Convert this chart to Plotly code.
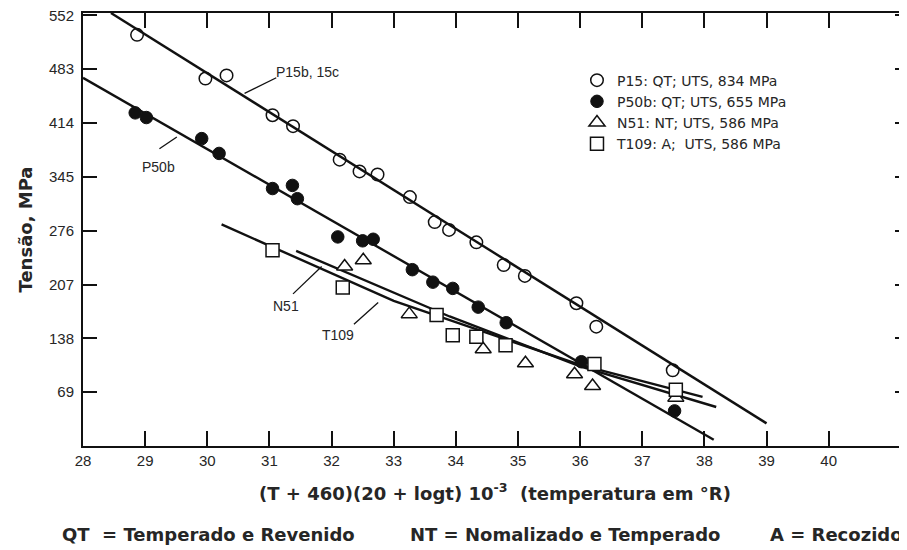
import plotly.graph_objects as go

# ---------------- data ----------------
p15_x = [28.87, 29.97, 30.31, 31.05, 31.38, 32.13, 32.45, 32.74, 33.26, 33.66, 33.89,
         34.33, 34.77, 35.11, 35.94, 36.26, 37.49]
p15_y = [527, 471, 475, 424, 410, 367, 352, 348, 319, 287, 277, 261, 232, 218, 183, 153, 97]

p50_x = [28.84, 29.02, 29.91, 30.19, 31.05, 31.37, 31.45, 32.10, 32.50, 32.67, 33.30,
         33.63, 33.95, 34.36, 34.81, 36.02, 37.52]
p50_y = [427, 421, 394, 375, 330, 334, 317, 268, 263, 265, 226, 210, 202, 178, 158, 108, 45]

n51_x = [32.21, 32.51, 33.25, 34.44, 35.12, 35.91, 36.20, 37.54]
n51_y = [230, 238, 169, 124, 106, 92, 77, 62]

t109_x = [31.05, 32.18, 33.69, 33.95, 34.33, 34.80, 36.23, 37.54]
t109_y = [251, 203, 168, 142, 140, 129, 105, 72]

# fitted master curves
p15_fit_x = [28.45, 39.0]
p15_fit_y = [555, 29]
p50_fit_x = [28.0, 38.15]
p50_fit_y = [472, 8]
n51_fit_x = [31.43, 33.9, 36.0, 38.19]
n51_fit_y = [250, 166, 102, 50]
t109_fit_x = [30.23, 33.0, 36.0, 37.97]
t109_fit_y = [284, 186, 104, 63]

legend_names = ["P15: QT; UTS, 834 MPa", "P50b: QT; UTS, 655 MPa",
                "N51: NT; UTS, 586 MPa", "T109: A;  UTS, 586 MPa"]
x_ticks = list(range(28, 41))
y_ticks = [69, 138, 207, 276, 345, 414, 483, 552]

# ---------------- styling ----------------
INK = "#111111"
TXT = "#262626"
SANS = "Liberation Sans, Arial, sans-serif"
WIDE = "DejaVu Sans, Verdana, sans-serif"

fig = go.Figure()

line_style = dict(color=INK, width=2.4)
fig.add_trace(go.Scatter(x=p15_fit_x, y=p15_fit_y, mode="lines", line=line_style,
                         showlegend=False, hoverinfo="skip", yaxis="y2"))
for fx, fy in [(p50_fit_x, p50_fit_y), (n51_fit_x, n51_fit_y), (t109_fit_x, t109_fit_y)]:
    fig.add_trace(go.Scatter(x=fx, y=fy, mode="lines", line=line_style,
                             showlegend=False, hoverinfo="skip"))

fig.add_trace(go.Scatter(x=p15_x, y=p15_y, mode="markers", name=legend_names[0],
                         marker=dict(symbol="circle", size=12.5, color="white",
                                     line=dict(color=INK, width=1.5))))
fig.add_trace(go.Scatter(x=p50_x, y=p50_y, mode="markers", name=legend_names[1],
                         marker=dict(symbol="circle", size=12.5, color=INK,
                                     line=dict(color=INK, width=1))))
fig.add_trace(go.Scatter(x=n51_x, y=n51_y, mode="markers", name=legend_names[2],
                         marker=dict(symbol="triangle-up", size=14, color="white",
                                     line=dict(color=INK, width=1.5))))
fig.add_trace(go.Scatter(x=t109_x, y=t109_y, mode="markers", name=legend_names[3],
                         marker=dict(symbol="square", size=13, color="white",
                                     line=dict(color=INK, width=1.5))))

# curve labels with leader lines
labels = [
    ("P15b, 15c", 31.62, 479, (30.60, 452), (31.11, 472)),
    ("P50b", 29.21, 358, (29.23, 381), (29.51, 396)),
    ("N51", 31.26, 179, (31.38, 195), (31.84, 230)),
    ("T109", 32.10, 142, (32.36, 156), (32.75, 184)),
]
for text, lx, ly, p0, p1 in labels:
    fig.add_annotation(x=lx, y=ly, text=text, showarrow=False,
                       font=dict(family=SANS, size=14, color=TXT))
    fig.add_shape(type="line", x0=p0[0], y0=p0[1], x1=p1[0], y1=p1[1],
                  line=dict(color=INK, width=1.3))

# footer
footer = [("QT  = Temperado e Revenido", -0.0279),
          ("NT = Nomalizado e Temperado", 0.3944),
          ("A = Recozido", 0.8313)]
for text, fx in footer:
    fig.add_annotation(xref="paper", yref="paper", x=fx, y=-0.2055, xanchor="left",
                       yanchor="middle", text=text, showarrow=False,
                       font=dict(family=WIDE, size=18, color=TXT, weight="bold"))

axis_common = dict(showgrid=False, zeroline=False, ticks="inside",
                   tickcolor=INK, tickwidth=1.5, automargin=False)

# the page adds an 8px body margin, so the figure is sized to fit inside the window
fig.update_layout(
    width=899, height=542,
    margin=dict(l=75, r=0, t=5, b=104, autoexpand=False),
    paper_bgcolor="white", plot_bgcolor="white",
    xaxis=dict(range=[28, 41.26], tickvals=x_ticks, ticklen=15,
               showline=True, linewidth=2, linecolor=INK, mirror="ticks",
               tickfont=dict(family=SANS, size=15, color=TXT),
               title=dict(text="(T + 460)(20 + logt) 10<sup>-3</sup>  (temperatura em °R)",
                          font=dict(family=WIDE, size=18, color=TXT, weight="bold"),
                          standoff=19),
               **axis_common),
    yaxis=dict(range=[0, 555], tickvals=y_ticks, ticklen=14,
               showline=True, linewidth=2, linecolor=INK,
               tickfont=dict(family=SANS, size=15, color=TXT),
               ticklabelstandoff=4, ticklabeloverflow="allow",
               title=dict(text="Tensão, MPa",
                          font=dict(family=WIDE, size=18, color=TXT, weight="bold"),
                          standoff=12),
               **axis_common),
    yaxis2=dict(range=[0, 555], tickvals=y_ticks, ticklen=12, overlaying="y",
                side="right", showline=False, showticklabels=False, **axis_common),
    legend=dict(x=0.5995, y=0.881, xanchor="left", yanchor="top",
                bgcolor="rgba(0,0,0,0)", borderwidth=0,
                font=dict(family=WIDE, size=14, color=TXT)),
    showlegend=True,
)

fig.write_html("out.html")
